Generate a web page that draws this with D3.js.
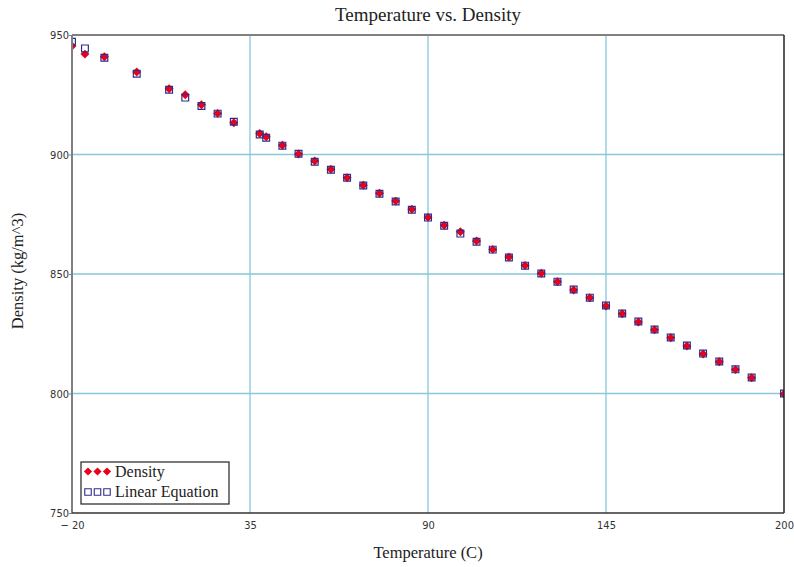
<!DOCTYPE html>
<html>
<head>
<meta charset="utf-8">
<script src="https://cdn.jsdelivr.net/npm/d3@7"></script>
<style>
  body { margin: 0; background: #fff; }
  svg { display: block; }
</style>
</head>
<body>
<svg id="chart" width="794" height="567"></svg>
<script>
// ---- data ----
const temperature = [-20, -16, -10, 0, 10, 15, 20, 25, 30, 38, 40, 45, 50, 55, 60, 65, 70, 75, 80, 85, 90, 95, 100, 105, 110, 115, 120, 125, 130, 135, 140, 145, 150, 155, 160, 165, 170, 175, 180, 185, 190, 200];
const density = [945.4, 942.0, 940.9, 934.5, 927.5, 925.0, 920.8, 917.2, 913.3, 908.8, 907.4, 903.9, 900.2, 897.3, 893.8, 890.3, 887.1, 883.8, 880.5, 877.1, 873.7, 870.4, 867.7, 863.8, 860.3, 857.1, 853.6, 850.3, 846.8, 843.3, 840.1, 836.6, 833.4, 829.9, 826.7, 823.3, 819.9, 816.5, 813.3, 810.0, 806.6, 799.8];
const linearEq = [947.2, 944.4, 940.5, 933.8, 927.1, 923.8, 920.3, 917.1, 913.7, 908.4, 907.0, 903.7, 900.3, 897.0, 893.6, 890.3, 887.0, 883.6, 880.3, 876.9, 873.6, 870.2, 866.9, 863.5, 860.2, 856.9, 853.5, 850.2, 846.8, 843.5, 840.1, 836.8, 833.5, 830.1, 826.8, 823.4, 820.1, 816.7, 813.4, 810.1, 806.7, 800.0];
const xTicks = [-20, 35, 90, 145, 200];
const yTicks = [750, 800, 850, 900, 950];
const xTickLabels = ["\u2212 20", "35", "90", "145", "200"];
const seriesNames = ["Density", "Linear Equation"];

// ---- layout ----
const svg = d3.select("#chart");
const L = 72, R = 784, T = 35, B = 513;
const x = d3.scaleLinear().domain([-20, 200]).range([L, R]);
const y = d3.scaleLinear().domain([750, 950]).range([B, T]);

const gridColor = "#86c7da";
const red = "#e8001c";
const navy = "#2e2e8a";
const serif = "'Liberation Serif','Times New Roman',serif";

// grid
const grid = svg.append("g");
grid.selectAll("line.vx").data(xTicks.slice(1, -1)).enter().append("line")
  .attr("x1", d => x(d)).attr("x2", d => x(d)).attr("y1", T).attr("y2", B)
  .attr("stroke", gridColor).attr("stroke-width", 1.3);
grid.selectAll("line.hy").data(yTicks.slice(1, -1)).enter().append("line")
  .attr("x1", L).attr("x2", R).attr("y1", d => y(d)).attr("y2", d => y(d))
  .attr("stroke", gridColor).attr("stroke-width", 1.3);

// clip
svg.append("defs").append("clipPath").attr("id", "clip")
  .append("rect").attr("x", L).attr("y", T).attr("width", R - L).attr("height", B - T);

// custom square-shaped diamond symbol
const rhombus = {
  draw(ctx, size) {
    const r = Math.sqrt(size / 2);
    ctx.moveTo(0, -r); ctx.lineTo(r, 0); ctx.lineTo(0, r); ctx.lineTo(-r, 0); ctx.closePath();
  }
};

const pts = svg.append("g").attr("clip-path", "url(#clip)");
const sq = d3.symbol().type(d3.symbolSquare).size(46);
const dia = d3.symbol().type(rhombus).size(40);

pts.selectAll("path.d").data(temperature).enter().append("path")
  .attr("transform", (d, i) => `translate(${x(d)},${y(density[i])})`)
  .attr("d", dia).attr("fill", red);
pts.selectAll("path.l").data(temperature).enter().append("path")
  .attr("transform", (d, i) => `translate(${x(d)},${y(linearEq[i])})`)
  .attr("d", sq).attr("fill", "none").attr("stroke", navy).attr("stroke-width", 1.2);

// frame
svg.append("line").attr("x1", L).attr("x2", R).attr("y1", T).attr("y2", T).attr("stroke", "#808080").attr("stroke-width", 2);
svg.append("line").attr("x1", L).attr("x2", L).attr("y1", T).attr("y2", B).attr("stroke", "#808080").attr("stroke-width", 2);
svg.append("line").attr("x1", R).attr("x2", R).attr("y1", T).attr("y2", B).attr("stroke", "#222").attr("stroke-width", 1.5);
svg.append("line").attr("x1", L).attr("x2", R).attr("y1", B).attr("y2", B).attr("stroke", "#333").attr("stroke-width", 1.5);

// axes tick labels via d3 axes
const xAxis = d3.axisBottom(x).tickValues(xTicks).tickSize(0).tickPadding(8)
  .tickFormat((d, i) => xTickLabels[i]);
const gx = svg.append("g").attr("transform", `translate(0,${B})`).call(xAxis);
gx.select(".domain").remove();
gx.selectAll("text").attr("font-family", "'DejaVu Sans Condensed','DejaVu Sans',sans-serif")
  .attr("font-size", 11).attr("fill", "#333");

const yAxis = d3.axisLeft(y).tickValues(yTicks).tickSize(0).tickPadding(3).tickFormat(d3.format("d"));
const gy = svg.append("g").attr("transform", `translate(${L},0)`).call(yAxis);
gy.select(".domain").remove();
gy.selectAll("text").attr("font-family", "'DejaVu Sans Condensed','DejaVu Sans',sans-serif")
  .attr("font-size", 11).attr("fill", "#333");
gy.selectAll(".tick").append("line").attr("x1", -3).attr("x2", 0).attr("stroke", "#808080");

// titles
svg.append("text").attr("x", 428).attr("y", 21).attr("text-anchor", "middle")
  .attr("font-family", serif).attr("font-size", 19).attr("fill", "#222")
  .text("Temperature vs. Density");
svg.append("text").attr("x", 428).attr("y", 558).attr("text-anchor", "middle")
  .attr("font-family", serif).attr("font-size", 16.5).attr("fill", "#222")
  .text("Temperature (C)");
svg.append("text").attr("transform", `translate(23,${(T + B) / 2 - 3}) rotate(-90)`).attr("text-anchor", "middle")
  .attr("font-family", serif).attr("font-size", 16.5).attr("fill", "#222")
  .text("Density (kg/m^3)");

// legend
const lg = svg.append("g");
lg.append("rect").attr("x", 81).attr("y", 462).attr("width", 148).attr("height", 42)
  .attr("fill", "#fff").attr("stroke", "#222").attr("stroke-width", 1.2);
const legDia = d3.symbol().type(rhombus).size(34);
const legSq = d3.symbol().type(d3.symbolSquare).size(42);
[0, 1, 2].forEach(k => {
  lg.append("path").attr("transform", `translate(${88 + k * 9.5},471.5)`).attr("d", legDia).attr("fill", red);
  lg.append("path").attr("transform", `translate(${88 + k * 9.5},492)`).attr("d", legSq)
    .attr("fill", "none").attr("stroke", navy).attr("stroke-width", 1.1);
});
lg.selectAll("text").data(seriesNames).enter().append("text")
  .attr("x", 115).attr("y", (d, i) => 477 + i * 20)
  .attr("font-family", serif).attr("font-size", 16).attr("fill", "#222")
  .text(d => d);
</script>
</body>
</html>
